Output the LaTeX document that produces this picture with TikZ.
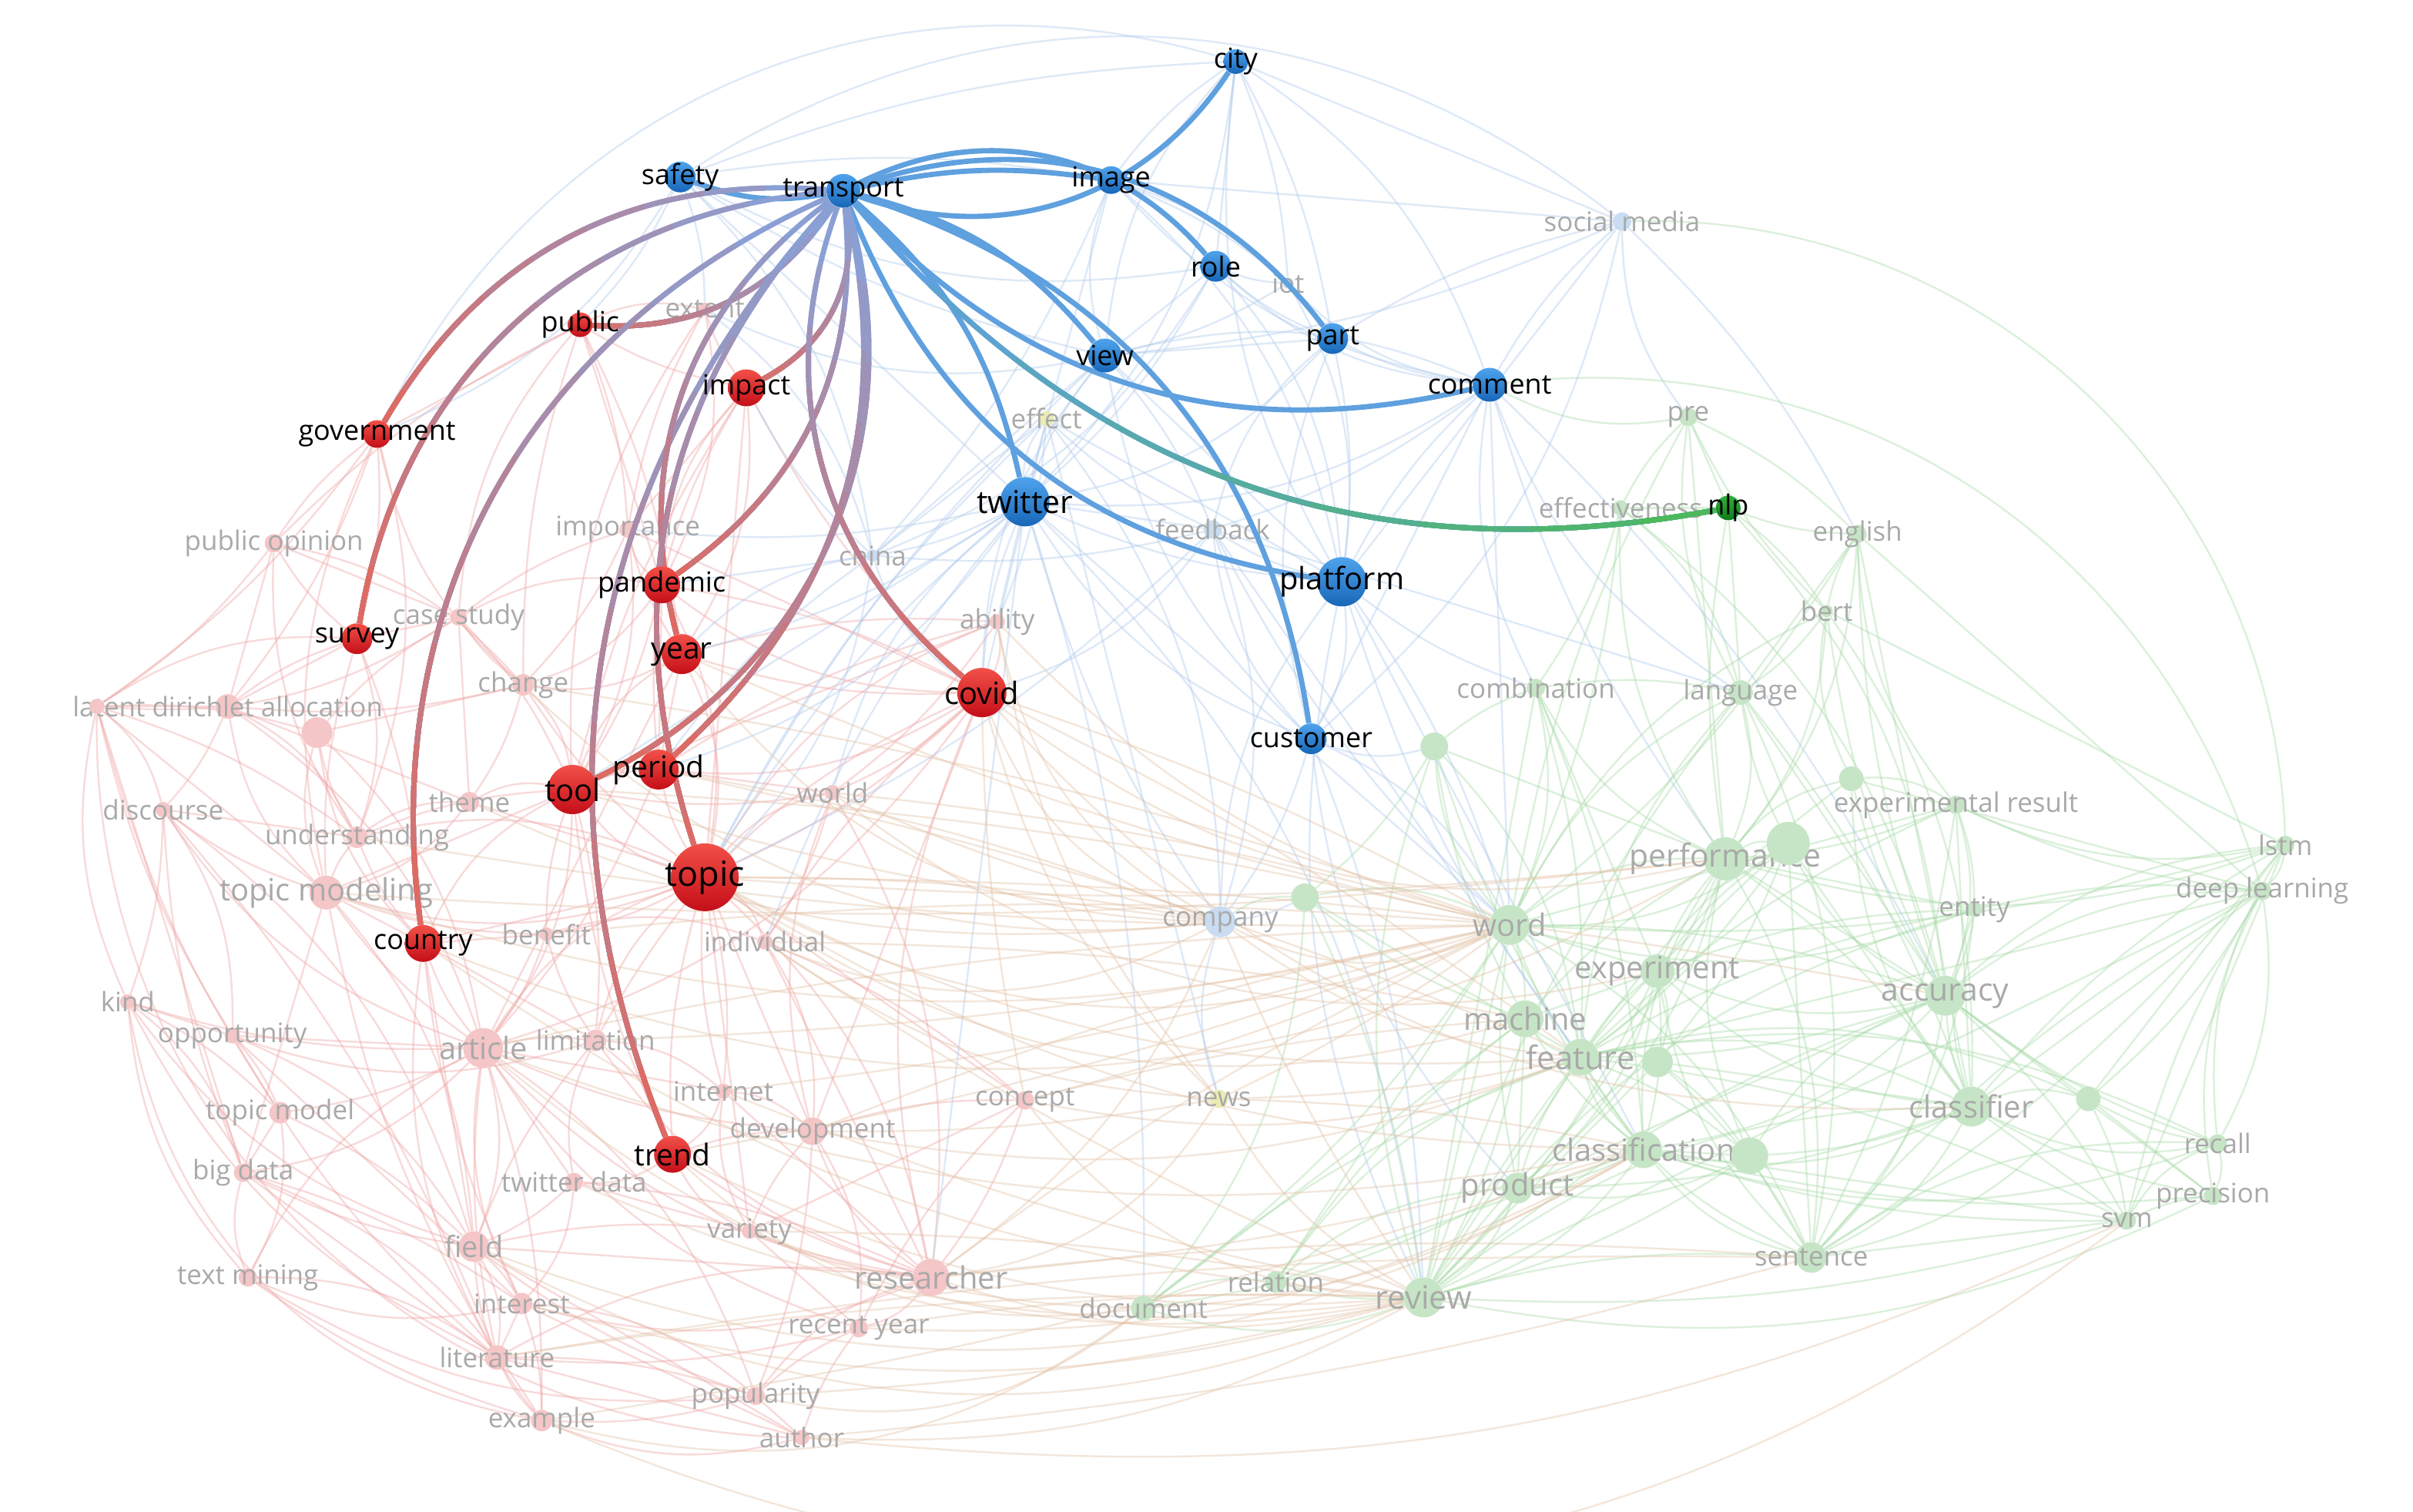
\documentclass[tikz,border=0pt]{standalone}
\usepackage{fontspec}
\setmainfont{Open Sans}
\definecolor{flabc}{HTML}{A9A9A9}
\definecolor{fRc}{HTML}{F5C6C7}
\definecolor{fBc}{HTML}{C9DCF1}
\definecolor{fGc}{HTML}{C6E5C6}
\definecolor{fYc}{HTML}{EBEBB5}
\definecolor{eR}{HTML}{EFA3A3}
\definecolor{eG}{HTML}{A7DAA7}
\definecolor{eB}{HTML}{ADC9EC}
\definecolor{eX}{HTML}{E3C2A6}
\definecolor{hB1}{HTML}{4FA3EC}
\definecolor{hB2}{HTML}{1766B8}
\definecolor{hR1}{HTML}{F25048}
\definecolor{hR2}{HTML}{C40E18}
\definecolor{hG1}{HTML}{2FB23A}
\definecolor{hG2}{HTML}{107A18}
\definecolor{lineB}{HTML}{5FA0DF}
\definecolor{gS}{HTML}{8A9FD3}
\definecolor{gE}{HTML}{DD6B64}
\definecolor{nE}{HTML}{4DB85C}
\pgfdeclarelayer{bgw}
\pgfdeclarelayer{faint}
\pgfdeclarelayer{fnode}
\pgfdeclarelayer{hedge}
\pgfsetlayers{bgw,faint,fnode,hedge,main}
\tikzset{
  fn/.style={circle,inner sep=0pt,draw=none},
  fR/.style={fn,fill=fRc},
  fB/.style={fn,fill=fBc},
  fG/.style={fn,fill=fGc},
  fY/.style={fn,fill=fYc},
  flab/.style={text=flabc,inner sep=0pt,font=\fontsize{#1}{#1}\selectfont},
  flab/.default=17.5,
  hn/.style={circle,inner sep=0pt,draw=none},
  hB/.style={hn,top color=hB1,bottom color=hB2},
  hR/.style={hn,top color=hR1,bottom color=hR2},
  hG/.style={hn,top color=hG1,bottom color=hG2},
  hlab/.style={text=black,inner sep=0pt,font=\fontsize{#1}{#1}\selectfont},
  hlab/.default=18,
  fe/.style={line width=1.2pt,draw opacity=0.4},
  hl/.style={line width=3.4pt},
}
\newcommand\gedge[5]{%
  \draw[hl,draw=#4] (transport) to[#2] (#1);
  \foreach \f in {1,...,8}{%
    \pgfmathsetmacro\goff{#3*\f/9}%
    \pgfmathtruncatemacro\gmix{\f*100/8}%
    \draw[hl,draw=#5!\gmix!#4,dash pattern=on 0pt off \goff pt on 3000pt off 1pt] (transport) to[#2] (#1);
  }%
}
\newcommand\faintset[2]{%
  \foreach \a/\b [count=\i] in {#2}
  {\pgfmathtruncatemacro\bb{mod(\i,5)*9-18}\draw[fe,draw=#1] (\a) to[bend left=\bb] (\b);}%
}
\begin{document}
\begin{tikzpicture}[x=1pt,y=-1pt]
\path[use as bounding box] (0,0) rectangle (1568,982);
\begin{pgfonlayer}{bgw}
\fill[white] (0,0) rectangle (1568,982);
\end{pgfonlayer}

% ---------- faded nodes ----------
\begin{pgfonlayer}{fnode}
\node[fR,minimum size=9pt,label={[flab]center:extent}] (ext) at (458,201) {};
\node[fR,minimum size=11pt,label={[flab]center:importance}] (imp2) at (408,344) {};
\node[fR,minimum size=12pt,label={[flab]center:public opinion}] (pop) at (178,353) {};
\node[fR,minimum size=11pt,label={[flab]center:case study}] (cs) at (298,401) {};
\node[fR,minimum size=14pt,label={[flab]center:change}] (chg) at (340,445) {};
\node[fR,minimum size=16pt,label={[flab]center:latent dirichlet allocation}] (lda) at (148,459) {};
\node[fR,minimum size=10pt] (lda0) at (63,459) {};
\node[fR,minimum size=20pt] (u1) at (206,476) {};
\node[fR,minimum size=10pt,label={[flab]center:discourse}] (disc) at (106,526) {};
\node[fR,minimum size=13pt,label={[flab]center:theme}] (thm) at (305,521) {};
\node[fR,minimum size=14pt,label={[flab]center:understanding}] (und) at (232,544) {};
\node[fR,minimum size=22pt,label={[flab=20]center:topic modeling}] (tm) at (212,580) {};
\node[fR,minimum size=9pt,label={[flab]center:benefit}] (ben) at (355,607) {};
\node[fR,minimum size=10pt,label={[flab]center:individual}] (ind) at (497,612) {};
\node[fR,minimum size=10pt,label={[flab]center:world}] (wld) at (541,515) {};
\node[fR,minimum size=10pt,label={[flab]center:ability}] (abl) at (648,404) {};
\node[fR,minimum size=10pt,label={[flab]center:kind}] (kind) at (83,651) {};
\node[fR,minimum size=10pt,label={[flab]center:opportunity}] (opp) at (151,673) {};
\node[fR,minimum size=26pt,label={[flab=20]center:article}] (art) at (314,681) {};
\node[fR,minimum size=14pt,label={[flab]center:limitation}] (lim) at (387,676) {};
\node[fR,minimum size=14pt,label={[flab]center:topic model}] (tmod) at (182,723) {};
\node[fR,minimum size=10pt,label={[flab]center:internet}] (inet) at (470,709) {};
\node[fR,minimum size=18pt,label={[flab]center:development}] (dev) at (528,735) {};
\node[fR,minimum size=12pt,label={[flab]center:big data}] (bd) at (158,762) {};
\node[fR,minimum size=12pt,label={[flab]center:twitter data}] (twd) at (373,768) {};
\node[fR,minimum size=10pt,label={[flab]center:variety}] (var) at (487,800) {};
\node[fR,minimum size=20pt,label={[flab=19]center:field}] (fld) at (308,810) {};
\node[fR,minimum size=12pt,label={[flab]center:text mining}] (txm) at (161,830) {};
\node[fR,minimum size=24pt,label={[flab=20]center:researcher}] (res) at (605,830) {};
\node[fR,minimum size=14pt,label={[flab]center:interest}] (int) at (339,847) {};
\node[fR,minimum size=12pt,label={[flab]center:recent year}] (ry) at (558,863) {};
\node[fR,minimum size=16pt,label={[flab]center:literature}] (lit) at (323,882) {};
\node[fR,minimum size=12pt,label={[flab]center:popularity}] (popu) at (491,907) {};
\node[fR,minimum size=14pt,label={[flab]center:example}] (exm) at (352,923) {};
\node[fR,minimum size=10pt,label={[flab]center:author}] (auth) at (521,934) {};
\node[fR,minimum size=12pt,label={[flab]center:concept}] (conc) at (666,715) {};
\node[fB,minimum size=12pt,label={[flab]center:social media}] (sm) at (1054,144) {};
\node[fB,minimum size=7pt,label={[flab]center:iot}] (iot) at (837,184) {};
\node[fB,minimum size=8pt,label={[flab]center:china}] (chn) at (567,361) {};
\node[fB,minimum size=12pt,label={[flab]center:feedback}] (fb) at (788,344) {};
\node[fB,minimum size=20pt,label={[flab]center:company}] (comp) at (793,599) {};
\node[fY,minimum size=10pt,label={[flab]center:effect}] (eff) at (680,272) {};
\node[fY,minimum size=12pt,label={[flab]center:news}] (news) at (792,714) {};
\node[fG,minimum size=12pt,label={[flab]center:pre}] (pre) at (1097,271) {};
\node[fG,minimum size=10pt,label={[flab]center:effectiveness}] (effv) at (1053,330) {};
\node[fG,minimum size=12pt,label={[flab]center:english}] (eng) at (1207,347) {};
\node[fG,minimum size=8pt,label={[flab]center:bert}] (bert) at (1187,397) {};
\node[fG,minimum size=12pt,label={[flab]center:combination}] (comb) at (998,447) {};
\node[fG,minimum size=16pt,label={[flab]center:language}] (lang) at (1131,450) {};
\node[fG,minimum size=18pt] (g1) at (932,485) {};
\node[fG,minimum size=16pt] (g2) at (1203,506) {};
\node[fG,minimum size=12pt,label={[flab]center:experimental result}] (er) at (1271,523) {};
\node[fG,minimum size=28pt,label={[flab=20.5]center:performance}] (perf) at (1121,558) {};
\node[fG,minimum size=28pt] (g3) at (1162,548) {};
\node[fG,minimum size=12pt,label={[flab]center:lstm}] (lstm) at (1485,549) {};
\node[fG,minimum size=12pt,label={[flab]center:deep learning}] (dl) at (1470,579) {};
\node[fG,minimum size=10pt,label={[flab]center:entity}] (ent) at (1283,591) {};
\node[fG,minimum size=26pt,label={[flab=20]center:word}] (word) at (981,601) {};
\node[fG,minimum size=18pt] (g4) at (848,583) {};
\node[fG,minimum size=22pt,label={[flab=20]center:experiment}] (expt) at (1077,631) {};
\node[fG,minimum size=26pt,label={[flab=20.5]center:accuracy}] (acc) at (1264,647) {};
\node[fG,minimum size=24pt,label={[flab=20]center:machine}] (mach) at (991,662) {};
\node[fG,minimum size=24pt,label={[flab=21]center:feature}] (feat) at (1027,687) {};
\node[fG,minimum size=20pt] (g5) at (1077,690) {};
\node[fG,minimum size=26pt,label={[flab=20]center:classifier}] (clsf) at (1281,719) {};
\node[fG,minimum size=16pt] (g6) at (1357,714) {};
\node[fG,minimum size=12pt,label={[flab]center:recall}] (rec) at (1441,743) {};
\node[fG,minimum size=24pt,label={[flab=20]center:classification}] (clsn) at (1068,747) {};
\node[fG,minimum size=24pt] (g7) at (1137,751) {};
\node[fG,minimum size=20pt,label={[flab=20]center:product}] (prod) at (986,772) {};
\node[fG,minimum size=12pt,label={[flab]center:precision}] (prec) at (1438,777) {};
\node[fG,minimum size=12pt,label={[flab]center:svm}] (svm) at (1382,793) {};
\node[fG,minimum size=20pt,label={[flab]center:sentence}] (sent) at (1177,817) {};
\node[fG,minimum size=26pt,label={[flab=21]center:review}] (rev) at (925,843) {};
\node[fG,minimum size=14pt,label={[flab]center:relation}] (rel) at (829,833) {};
\node[fG,minimum size=16pt,label={[flab]center:document}] (doc) at (743,850) {};
\end{pgfonlayer}

% ---------- highlighted nodes ----------
\node[hB,minimum size=16pt,label={[hlab]center:city}] (city) at (803,40) {};
\node[hB,minimum size=18pt,label={[hlab]center:image}] (image) at (722,117) {};
\node[hB,minimum size=22pt,label={[hlab]center:transport}] (transport) at (548,124) {};
\node[hB,minimum size=20pt,label={[hlab]center:safety}] (safety) at (442,115) {};
\node[hB,minimum size=20pt,label={[hlab]center:role}] (role) at (790,173) {};
\node[hB,minimum size=20pt,label={[hlab]center:part}] (part) at (866,220) {};
\node[hB,minimum size=22pt,label={[hlab]center:view}] (view) at (718,231) {};
\node[hB,minimum size=22pt,label={[hlab]center:comment}] (comment) at (968,250) {};
\node[hB,minimum size=32pt,label={[hlab=20.5]center:twitter}] (twitter) at (666,326) {};
\node[hB,minimum size=32pt,label={[hlab=20]center:platform}] (platform) at (872,378) {};
\node[hB,minimum size=20pt,label={[hlab]center:customer}] (customer) at (852,480) {};
\node[hR,minimum size=16pt,label={[hlab]center:public}] (public) at (377,211) {};
\node[hR,minimum size=24pt,label={[hlab]center:impact}] (impact) at (485,252) {};
\node[hR,minimum size=18pt,label={[hlab]center:government}] (government) at (245,282) {};
\node[hR,minimum size=24pt,label={[hlab]center:pandemic}] (pandemic) at (430,380) {};
\node[hR,minimum size=20pt,label={[hlab]center:survey}] (survey) at (232,415) {};
\node[hR,minimum size=26pt,label={[hlab=19.5]center:year}] (year) at (443,425) {};
\node[hR,minimum size=32pt,label={[hlab=20]center:covid}] (covid) at (638,450) {};
\node[hR,minimum size=26pt,label={[hlab=19.5]center:period}] (period) at (428,500) {};
\node[hR,minimum size=32pt,label={[hlab=20]center:tool}] (tool) at (372,513) {};
\node[hR,minimum size=44pt,label={[hlab=22.5]center:topic}] (topic) at (458,570) {};
\node[hR,minimum size=24pt,label={[hlab]center:country}] (country) at (275,613) {};
\node[hR,minimum size=24pt,label={[hlab=19.5]center:trend}] (trend) at (437,750) {};
\node[hG,minimum size=16pt,label={[hlab]center:nlp}] (nlp) at (1123,330) {};

% ---------- faint background links ----------
\begin{pgfonlayer}{faint}
\faintset{eR}{lda0/pop, lda0/lda, lda0/u1, lda0/disc, lda0/kind, lda0/opp, lda0/tm, lda0/und, lda0/survey, lda0/cs, lda0/government, lda/pop, lda/disc, lda/und, lda/tm, lda/chg, lda/thm, lda/survey, lda/art, u1/tm, u1/und, u1/chg, u1/cs, u1/art, u1/country, pop/survey, pop/cs, pop/government, pop/chg, pop/und, disc/tm, disc/und, disc/kind, disc/opp, disc/art, disc/bd, kind/opp, kind/tmod, kind/bd, kind/txm, kind/art, opp/art, opp/tmod, opp/fld, opp/lim, tm/art, tm/country, tm/und, tm/fld, tm/thm, tm/ben, tm/tool, art/lim, art/fld, art/int, art/lit, art/twd, art/tmod, art/bd, art/txm, art/ben, art/inet, art/country, art/topic, art/res, art/dev, tmod/bd, tmod/fld, tmod/txm, bd/txm, bd/fld, bd/lit, fld/int, fld/lit, fld/exm, fld/twd, fld/res, fld/var, txm/lit, txm/int, txm/exm, int/lit, int/exm, int/popu, int/res, lit/exm, lit/auth, lit/popu, lit/res, exm/auth, exm/popu, popu/auth, popu/ry, popu/res, ry/res, ry/auth, ry/var, res/var, res/dev, res/topic, res/conc, var/twd, var/dev, var/inet, dev/inet, dev/trend, dev/topic, dev/conc, inet/trend, inet/lim, inet/topic, lim/country, lim/ben, lim/trend, lim/twd, ben/topic, ben/country, ben/tool, ben/ind, ind/topic, ind/wld, ind/res, ind/conc, ind/dev, wld/topic, wld/covid, wld/period, wld/tool, thm/tool, thm/und, thm/chg, thm/cs, chg/cs, chg/tool, chg/year, chg/imp2, cs/survey, cs/imp2, cs/public, imp2/pandemic, imp2/public, imp2/impact, imp2/ext, imp2/tool, ext/public, ext/impact, government/public, government/survey, abl/covid, abl/topic, abl/year, conc/topic, covid/topic, covid/period, covid/res, covid/ind, covid/dev, topic/period, topic/tool, topic/year, topic/trend, topic/country, tool/period, tool/year, tool/country, tool/trend, country/fld, country/und, trend/twd, trend/var, trend/res, pandemic/year, pandemic/tool, pandemic/topic, impact/pandemic, impact/covid, impact/topic, survey/country, survey/und, government/tm, public/impact, year/period, covid/year, covid/pandemic, kind/lit, lda0/tmod, lda0/bd, pop/public}
\faintset{eR}{survey/tm, survey/lda, government/lda, government/und, government/chg, public/chg, public/pandemic, public/year, impact/year, impact/period, impact/tool, pandemic/period, pandemic/covid, ext/pandemic, ext/tool, imp2/year, imp2/covid, cs/tool, cs/pandemic, chg/pandemic, chg/topic, thm/topic, und/tool, und/topic, tm/topic, tm/lit, tm/bd, disc/lit, disc/fld, kind/fld, opp/lit, opp/int, art/exm, art/popu, art/ry, fld/popu, fld/auth, bd/int, bd/exm, txm/popu, lit/ry, int/auth, twd/res, twd/int, lim/res, lim/fld, inet/res, dev/popu, dev/ry, topic/lim, topic/inet, topic/var, tool/lim, tool/art, country/lit, country/int, year/art, period/art, covid/art, covid/lim, abl/period, abl/tool, abl/wld, wld/res, wld/dev, conc/ry, conc/var}
\faintset{eG}{pre/effv, pre/nlp, pre/eng, pre/comment, pre/lang, pre/bert, effv/nlp, effv/comb, effv/lang, effv/perf, eng/bert, eng/lang, eng/nlp, eng/perf, eng/er, eng/acc, eng/dl, bert/lang, bert/perf, bert/g2, bert/acc, bert/lstm, comb/lang, comb/word, comb/perf, comb/g1, comb/expt, comb/feat, lang/perf, lang/word, lang/g3, lang/acc, lang/clsf, lang/sent, g1/word, g1/mach, g1/perf, g1/g4, g2/er, g2/perf, g2/acc, g2/dl, er/perf, er/acc, er/lstm, er/dl, er/clsf, er/ent, perf/g3, perf/word, perf/expt, perf/acc, perf/clsf, perf/feat, perf/clsn, perf/mach, perf/ent, perf/rev, perf/sent, g3/acc, g3/expt, g3/clsf, g3/g5, lstm/dl, lstm/acc, lstm/clsf, lstm/g6, lstm/word, lstm/perf, dl/acc, dl/ent, dl/clsf, dl/g6, dl/rec, dl/prec, dl/svm, dl/feat, ent/acc, ent/word, ent/clsf, ent/expt, word/expt, word/mach, word/feat, word/g4, word/clsn, word/rev, word/acc, word/sent, g4/comp, g4/mach, g4/feat, g4/rev, g4/doc, expt/acc, expt/feat, expt/mach, expt/clsn, expt/g5, expt/clsf, acc/clsf, acc/g6, acc/feat, acc/clsn, acc/g7, acc/rec, acc/prec, acc/svm, acc/sent, mach/feat, mach/clsn, mach/prod, mach/rev, feat/g5, feat/clsn, feat/prod, feat/rev, feat/g7, feat/clsf, feat/sent, feat/doc, g5/clsf, g5/g7, clsf/g6, clsf/rec, clsf/prec, clsf/svm, clsf/g7, clsf/sent, clsf/rev, g6/rec, g6/prec, g6/svm, rec/prec, rec/svm, prec/svm, clsn/g7, clsn/prod, clsn/rev, clsn/sent, clsn/svm, g7/sent, g7/rev, prod/rev, prod/rel, sent/rev, sent/svm, rev/rel, rev/doc, rel/doc, doc/prod, rel/clsn, svm/rev, prec/rev, rec/sent, nlp/perf, nlp/lang, nlp/bert, nlp/acc, lstm/rec, dl/sent, lstm/svm}
\faintset{eG}{word/prod, word/rel, word/doc, perf/prod, perf/g7, acc/rev, acc/prod, clsf/prod, clsf/clsn, feat/rel, mach/rel, mach/doc, expt/rev, expt/prod, expt/sent, g3/rev, g3/sent, g3/feat, g3/word, lang/feat, lang/rev, comb/rev, comb/clsn, g1/feat, g1/rev, g1/clsn, eng/clsf, eng/word, bert/clsf, bert/word, er/feat, er/word, er/sent, ent/sent, ent/rev, ent/feat, dl/rev, lstm/sent, g6/sent, g6/feat, svm/feat, svm/clsn, prec/clsn, rec/clsn, rec/feat, pre/word, pre/perf, effv/word, effv/acc, g2/clsf, g2/feat, g5/rev, g5/sent, g7/prod}
\faintset{eB}{city/image, city/role, city/part, city/comment, city/view, city/safety, city/sm, city/iot, city/twitter, city/platform, sm/comment, sm/platform, sm/view, sm/customer, sm/pre, sm/part, sm/image, image/role, image/part, image/view, image/safety, image/twitter, image/iot, image/platform, image/comment, safety/view, safety/twitter, safety/ext, safety/chn, safety/role, role/part, role/view, role/twitter, role/platform, role/comment, role/iot, iot/part, iot/view, iot/platform, iot/comment, part/comment, part/view, part/platform, part/twitter, part/customer, view/twitter, view/platform, view/fb, view/comment, view/customer, comment/platform, comment/customer, comment/fb, comment/twitter, comment/comb, twitter/platform, twitter/fb, twitter/chn, twitter/eff, twitter/customer, twitter/comp, twitter/abl, platform/fb, platform/customer, platform/comp, platform/comb, platform/eff, customer/comp, customer/fb, customer/g1, chn/fb, chn/eff, fb/eff, fb/comp, comp/news, comp/g4, eff/news, safety/public, safety/government, comment/lang, comment/perf, twitter/word, platform/word, chn/topic, chn/covid, twitter/covid, fb/lang, sm/eng}
\faintset{eB}{twitter/topic, twitter/tool, twitter/year, twitter/period, twitter/wld, twitter/ind, twitter/res, twitter/doc, twitter/rev, platform/rev, platform/feat, platform/clsn, customer/rev, customer/word, customer/prod, fb/word, fb/feat, fb/topic, fb/covid, view/covid, view/topic, view/chn, image/chn, role/chn, part/fb, eff/topic, eff/covid, eff/abl, eff/comp, chn/year, chn/period, chn/pandemic, chn/impact, ext/chn, ext/view, imp2/twitter, comment/word, comment/acc}
\foreach \a/\b [count=\i] in {res/rev, res/clsn, res/word, topic/word, topic/feat, topic/perf, tool/word, art/rev, art/clsn, popu/rev, lit/rev, exm/doc, auth/rev, auth/sent, covid/word, covid/perf, dev/feat, inet/rev, ry/rev, fld/rev, country/rev, tm/perf, ind/mach, wld/expt, conc/feat, news/word, topic/acc, trend/doc, auth/svm, exm/clsn, lit/sent, popu/doc, ry/clsn, year/word, period/feat, covid/clsf, abl/word, ind/rev, res/sent, covid/comp, covid/news, covid/conc, covid/feat, abl/comp, abl/news, wld/comp, wld/word, ind/comp, ind/news, dev/news, dev/word, res/news, res/comp, conc/word, conc/mach, conc/rev, news/rev, news/feat, news/clsn, comp/word, comp/feat, comp/rev, topic/comp, topic/mach, topic/clsn, tool/comp, period/comp, year/comp, twd/rev, inet/word, var/rev, var/clsn, trend/rev, trend/word, art/word, fld/clsn, int/rev, lim/word, ben/word, country/perf, tm/word, und/word, chg/word, chg/comp, thm/comp}
{\pgfmathtruncatemacro\bb{mod(\i,4)*10-25}\draw[fe,draw=eX] (\a) to[bend left=\bb] (\b);}
\draw[fe,draw=eB] (safety) to[bend left=35] (sm);
\draw[fe,draw=eB] (government) to[bend left=40] (city);
\draw[fe,draw=eG] (sm) to[bend left=45] (lstm);
\draw[fe,draw=eG] (comment) to[bend left=40] (dl);
\draw[fe,draw=eR] (lda0) to[bend right=45] (auth);
\draw[fe,draw=eR] (kind) to[bend right=35] (exm);
\draw[fe,draw=eX] (exm) to[bend right=30] (svm);
\end{pgfonlayer}

% ---------- highlighted links ----------
\begin{pgfonlayer}{hedge}
\draw[hl,draw=lineB] (transport) to[bend left=15] (safety);
\draw[hl,draw=lineB] (transport) to[bend left=10] (image);
\draw[hl,draw=lineB] (transport) to[bend right=38] (city);
\draw[hl,draw=lineB] (transport) to[bend left=38] (role);
\draw[hl,draw=lineB] (transport) to[bend left=36] (part);
\draw[hl,draw=lineB] (transport) to[bend left=18] (view);
\draw[hl,draw=lineB] (transport) to[bend right=30] (comment);
\draw[hl,draw=lineB] (transport) to[bend left=32] (customer);
\draw[hl,draw=lineB] (transport) to[bend left=18] (twitter);
\draw[hl,draw=lineB] (transport) to[bend right=30] (platform);
\gedge{nlp}{bend right=30}{650}{lineB}{nE}
\gedge{government}{bend right=32}{360}{gS}{gE}
\gedge{survey}{bend right=38}{460}{gS}{gE}
\gedge{public}{bend left=30}{203}{gS}{gE}
\gedge{country}{bend right=37}{600}{gS}{gE}
\gedge{trend}{bend right=32}{680}{gS}{gE}
\gedge{tool}{bend left=40}{457}{gS}{gE}
\gedge{period}{bend left=30}{420}{gS}{gE}
\gedge{year}{bend right=34}{340}{gS}{gE}
\gedge{pandemic}{bend left=30}{300}{gS}{gE}
\gedge{topic}{bend right=30}{485}{gS}{gE}
\gedge{impact}{bend left=36}{152}{gS}{gE}
\gedge{covid}{bend right=35}{360}{gS}{gE}
\end{pgfonlayer}
\end{tikzpicture}
\end{document}
